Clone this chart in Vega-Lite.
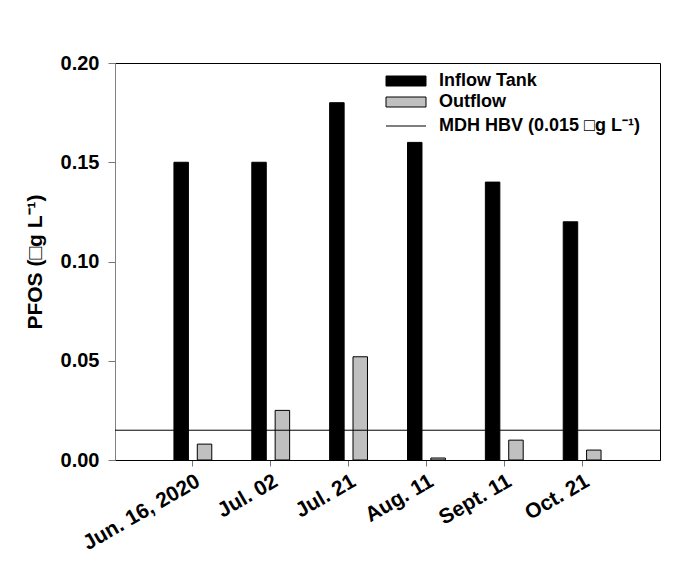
{
  "$schema": "https://vega.github.io/schema/vega-lite/v6.json",
  "autosize": {"type": "none"},
  "padding": {"left": 115, "top": 63, "right": 21, "bottom": 119},
  "width": 545,
  "height": 397,
  "background": "white",
  "config": {
    "view": {"stroke": "#000000", "strokeWidth": 1},
    "font": "Liberation Sans",
    "axis": {"grid": false, "labelFont": "Liberation Sans", "titleFont": "Liberation Sans", "labelFontWeight": "bold", "titleFontWeight": "bold", "labelColor": "#000", "titleColor": "#000", "labelFontSize": 20, "titleFontSize": 21}
  },
  "datasets": {
    "bars": [
      {"date": "Jun. 16, 2020", "series": "Inflow Tank", "value": 0.15},
      {"date": "Jun. 16, 2020", "series": "Outflow", "value": 0.008},
      {"date": "Jul. 02", "series": "Inflow Tank", "value": 0.15},
      {"date": "Jul. 02", "series": "Outflow", "value": 0.025},
      {"date": "Jul. 21", "series": "Inflow Tank", "value": 0.18},
      {"date": "Jul. 21", "series": "Outflow", "value": 0.052},
      {"date": "Aug. 11", "series": "Inflow Tank", "value": 0.16},
      {"date": "Aug. 11", "series": "Outflow", "value": 0.001},
      {"date": "Sept. 11", "series": "Inflow Tank", "value": 0.14},
      {"date": "Sept. 11", "series": "Outflow", "value": 0.010},
      {"date": "Oct. 21", "series": "Inflow Tank", "value": 0.12},
      {"date": "Oct. 21", "series": "Outflow", "value": 0.005}
    ],
    "hbv": [
      {"label": "MDH HBV (0.015 □g L⁻¹)", "value": 0.015}
    ]
  },
  "layer": [
    {
      "data": {"name": "bars"},
      "mark": {"type": "bar", "stroke": "#000", "strokeWidth": 1},
      "encoding": {
        "x": {
          "field": "date", "type": "nominal", "sort": null,
          "scale": {"paddingInner": 0, "paddingOuter": 0.5},
          "axis": {"title": null, "labelAngle": -30, "labelFontSize": 21, "domainColor": "#000", "tickColor": "#777", "tickSize": 6, "labelPadding": 4, "labelLimit": 300}
        },
        "xOffset": {
          "field": "series", "type": "nominal",
          "scale": {"paddingInner": 0.38, "paddingOuter": 0.857}
        },
        "y": {
          "field": "value", "type": "quantitative",
          "scale": {"domain": [0, 0.2], "nice": false, "zero": true},
          "axis": {"title": "PFOS (□g L⁻¹)", "values": [0, 0.05, 0.1, 0.15, 0.2], "format": ".2f", "domainColor": "#808080", "tickColor": "#777", "tickSize": 7, "labelPadding": 9, "titlePadding": 15}
        },
        "fill": {
          "field": "series", "type": "nominal",
          "scale": {"domain": ["Inflow Tank", "Outflow"], "range": ["#000000", "#c0c0c0"]},
          "legend": {
            "title": null, "orient": "none", "legendX": 282, "legendY": 9,
            "padding": 0,
            "symbolType": "M-4,-1H4V1H-4Z", "symbolSize": 100,
            "symbolStrokeColor": "#000", "symbolStrokeWidth": 1, "symbolOpacity": 1,
            "labelOffset": 24, "labelFontSize": 18, "labelFontWeight": "bold", "labelColor": "#000", "labelFont": "Liberation Sans", "labelLimit": 300,
            "rowPadding": 3
          }
        }
      }
    },
    {
      "data": {"name": "hbv"},
      "mark": {"type": "rule", "strokeWidth": 1},
      "encoding": {
        "y": {"field": "value", "type": "quantitative"},
        "stroke": {
          "field": "label", "type": "nominal",
          "scale": {"range": ["#000000"]},
          "legend": {
            "title": null, "orient": "none", "legendX": 282, "legendY": 54,
            "padding": 0,
            "symbolType": "M-4,0H4", "symbolSize": 100,
            "symbolStrokeWidth": 1, "symbolFillColor": "transparent",
            "labelOffset": 24, "labelFontSize": 18, "labelFontWeight": "bold", "labelColor": "#000", "labelFont": "Liberation Sans", "labelLimit": 300
          }
        }
      }
    }
  ]
}
